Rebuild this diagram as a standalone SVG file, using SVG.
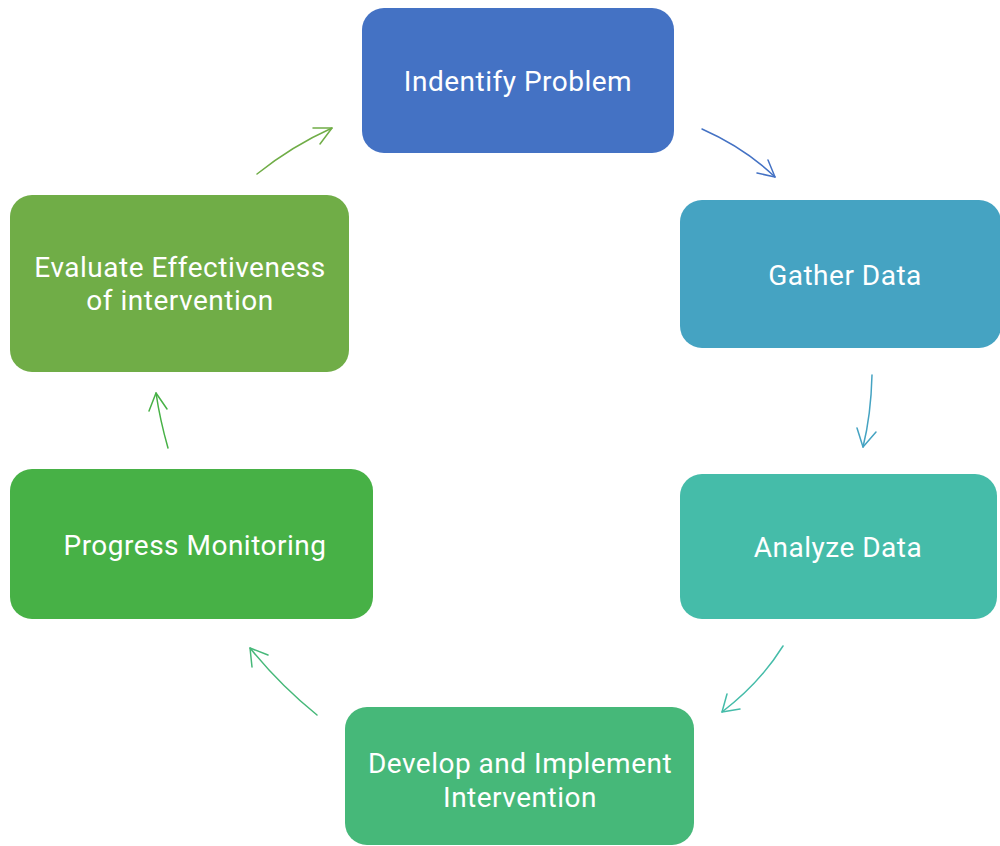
<svg xmlns="http://www.w3.org/2000/svg" width="1000" height="846" viewBox="0 0 1000 846">
  <style>
    .box text { font-family: Roboto, "Liberation Sans", sans-serif; font-size: 28px; letter-spacing: 0.5px; fill: #ffffff; text-anchor: middle; dominant-baseline: central; }
    .conn path { fill: none; stroke-width: 1.5; stroke-linecap: round; stroke-linejoin: round; }
  </style>
  <rect width="1000" height="846" fill="#ffffff"/>

  <g id="identify" class="box">
    <rect x="362" y="8" width="312" height="145" rx="22" fill="#4472C4"/>
    <text x="518" y="81">Indentify Problem</text>
  </g>
  <g id="gather" class="box">
    <rect x="680" y="200" width="321" height="148" rx="22" fill="#45A3C2"/>
    <text x="845" y="275">Gather Data</text>
  </g>
  <g id="analyze" class="box">
    <rect x="680" y="474" width="317" height="145" rx="22" fill="#45BCA9"/>
    <text x="838" y="547">Analyze Data</text>
  </g>
  <g id="develop" class="box">
    <rect x="345" y="707" width="349" height="138" rx="22" fill="#46B879"/>
    <text x="520" y="763">Develop and Implement</text>
    <text x="520" y="797">Intervention</text>
  </g>
  <g id="progress" class="box">
    <rect x="10" y="469" width="363" height="150" rx="22" fill="#47B146"/>
    <text x="195" y="545">Progress Monitoring</text>
  </g>
  <g id="evaluate" class="box">
    <rect x="10" y="195" width="339" height="177" rx="22" fill="#70AD47"/>
    <text x="180" y="267">Evaluate Effectiveness</text>
    <text x="180" y="300">of intervention</text>
  </g>

  <g id="connectors" class="conn">
    <path d="M702,129 Q745,148 775,177" stroke="#4472C4"/>
    <path d="M768,160 L775,177 L757,173" stroke="#4472C4"/>

    <path d="M872,375 Q871,415 863,447" stroke="#45A3C2"/>
    <path d="M857,428 L863,447 L876,432" stroke="#45A3C2"/>

    <path d="M783,646 Q760,683 722,712" stroke="#45BCA9"/>
    <path d="M727,694 L722,712 L740,709" stroke="#45BCA9"/>

    <path d="M317,715 Q280,685 250,648" stroke="#46B879"/>
    <path d="M252,667 L250,648 L268,655" stroke="#46B879"/>

    <path d="M168,448 Q160,420 156,393" stroke="#47B146"/>
    <path d="M149,411 L156,393 L167,409" stroke="#47B146"/>

    <path d="M257,174 Q292,146 332,128" stroke="#70AD47"/>
    <path d="M313,128 L332,128 L320,144" stroke="#70AD47"/>
  </g>
</svg>
